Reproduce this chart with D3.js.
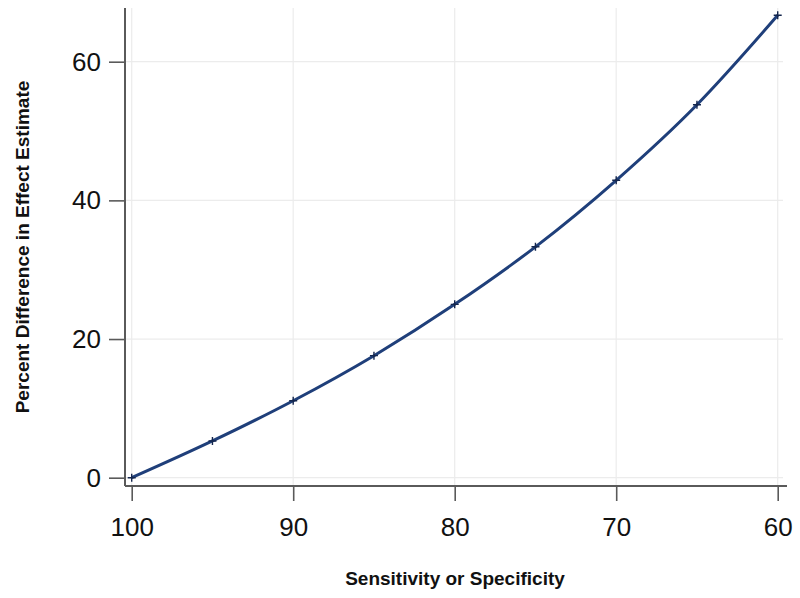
<!DOCTYPE html>
<html>
<head>
<meta charset="utf-8">
<script src="https://cdn.jsdelivr.net/npm/d3@7"></script>
<style>
  body { margin: 0; background: #fff; }
  text { font-family: "Liberation Sans", Arial, sans-serif; }
</style>
</head>
<body>
<div id="chart"></div>
<script>
const sensitivity = [100, 95, 90, 85, 80, 75, 70, 65, 60]
const pctDiff = [0, 5.3, 11.1, 17.6, 25.0, 33.3, 42.9, 53.8, 66.7]
const xTicks = [100, 90, 80, 70, 60]
const yTicks = [0, 20, 40, 60]

const width = 800
const height = 598
const plot = { left: 125, right: 787, top: 8, bottom: 486 }

const svg = d3.select('#chart').append('svg')
  .attr('width', width)
  .attr('height', height)

const x = d3.scaleLinear()
  .domain([100, 60])
  .range([131.7, 777.7])

const y = d3.scaleLinear()
  .domain([0, 60])
  .range([477.7, 61.7])

// grid
svg.append('g')
  .selectAll('line')
  .data(yTicks)
  .join('line')
  .attr('x1', plot.left)
  .attr('x2', plot.right - 4)
  .attr('y1', d => y(d))
  .attr('y2', d => y(d))
  .attr('stroke', '#ececec')
  .attr('stroke-width', 1.2)

svg.append('g')
  .selectAll('line')
  .data(xTicks)
  .join('line')
  .attr('x1', d => x(d))
  .attr('x2', d => x(d))
  .attr('y1', plot.top)
  .attr('y2', plot.bottom)
  .attr('stroke', '#ececec')
  .attr('stroke-width', 1.2)

// axes
const yAxis = d3.axisLeft(y)
  .tickValues(yTicks)
  .tickSize(16)
  .tickPadding(8)
  .tickSizeOuter(0)

const xAxis = d3.axisBottom(x)
  .tickValues(xTicks)
  .tickSize(15)
  .tickPadding(17)
  .tickSizeOuter(0)

const gy = svg.append('g')
  .attr('transform', `translate(${plot.left},0)`)
  .call(yAxis)
gy.select('.domain').remove()
gy.append('line')
  .attr('y1', plot.top)
  .attr('y2', plot.bottom)
  .attr('stroke', '#5a5a5a')
  .attr('stroke-width', 2)

const gx = svg.append('g')
  .attr('transform', `translate(0,${plot.bottom})`)
  .call(xAxis)
gx.select('.domain').remove()
gx.append('line')
  .attr('x1', plot.left)
  .attr('x2', plot.right)
  .attr('stroke', '#5a5a5a')
  .attr('stroke-width', 2)

svg.selectAll('.tick line')
  .attr('stroke', '#5a5a5a')
  .attr('stroke-width', 1.6)

svg.selectAll('.tick text')
  .attr('font-size', 26)
  .attr('fill', '#111')
  .style('font-family', '"Liberation Sans", Arial, sans-serif')

// line
const line = d3.line()
  .x((d, i) => x(sensitivity[i]))
  .y(d => y(d))
  .curve(d3.curveMonotoneX)

svg.append('path')
  .datum(pctDiff)
  .attr('fill', 'none')
  .attr('stroke', '#1f3f7a')
  .attr('stroke-width', 3)
  .attr('d', line)

// markers
svg.append('g')
  .selectAll('path')
  .data(pctDiff)
  .join('path')
  .attr('transform', (d, i) => `translate(${x(sensitivity[i])},${y(d)})`)
  .attr('d', 'M-4,0H4M0,-4V4')
  .attr('stroke', '#14264d')
  .attr('stroke-width', 1.4)

// titles
svg.append('text')
  .attr('transform', 'translate(29,247) rotate(-90)')
  .attr('text-anchor', 'middle')
  .attr('font-size', 19)
  .attr('font-weight', 'bold')
  .attr('fill', '#111')
  .text('Percent Difference in Effect Estimate')

svg.append('text')
  .attr('x', 455)
  .attr('y', 585)
  .attr('text-anchor', 'middle')
  .attr('font-size', 19)
  .attr('font-weight', 'bold')
  .attr('fill', '#111')
  .text('Sensitivity or Specificity')
</script>
</body>
</html>
